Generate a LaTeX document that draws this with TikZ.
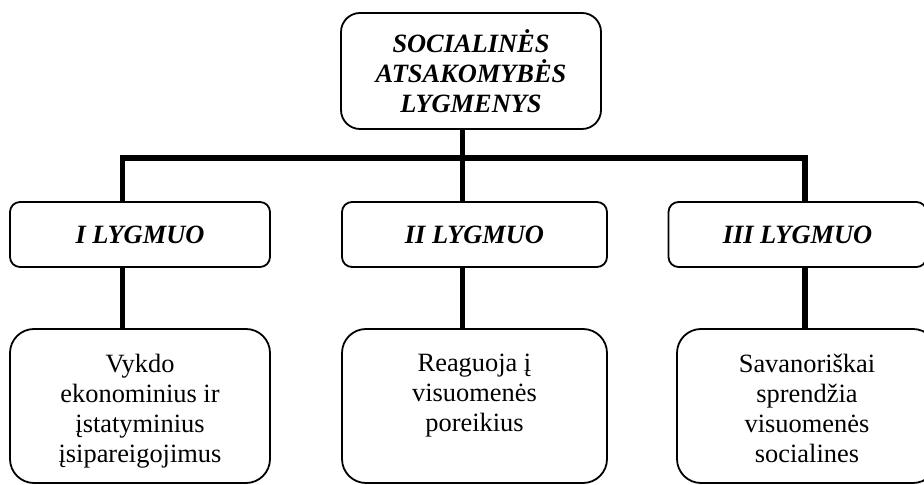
\documentclass[tikz,border=0pt]{standalone}
\usepackage{fontspec}
\setmainfont{Liberation Serif}
\usetikzlibrary{positioning}

% text of the lower boxes sits at the top of the box
\newcommand{\lowtxt}[1]{\parbox[c][52pt][t]{124pt}{\centering #1}}

\tikzset{
  headbox/.style={draw,line width=0.9pt,rounded corners=5pt,minimum width=130pt,
    minimum height=32.5pt,inner sep=0pt,align=center,font=\fontsize{13.2}{15}\selectfont\bfseries\itshape},
  topbox/.style={headbox,rounded corners=9.5pt,minimum height=58pt},
  lowbox/.style={draw,line width=0.9pt,rounded corners=12pt,minimum width=130pt,
    inner xsep=0pt,inner ysep=12.5pt,font=\fontsize{13.2}{15}\selectfont},
  bar/.style={line width=2.8pt,line join=miter}
}

\begin{document}
\begin{tikzpicture}[x=0.5pt,y=-0.5pt,node distance=2cm,on grid]
\useasboundingbox (0,0) rectangle (924,485);

  \node[topbox]   (top)  at (471,71)     {SOCIALINĖS\\ATSAKOMYBĖS\\LYGMENYS};
  \node[headbox]  (lvl1) at (140,234.5)  {I LYGMUO};
  \node[headbox,minimum width=132.5pt] (lvl2) at (474.5,234.5) {II LYGMUO};
  \node[headbox,minimum width=129pt]   (lvl3) at (797.5,234.5) {III LYGMUO};

  \node[lowbox]   (low1) [below=85.75pt of lvl1] {\lowtxt{Vykdo\\ekonominius ir\\įstatyminius\\įsipareigojimus}};
  \node[lowbox,minimum width=132.5pt] (low2) [below=85.75pt of lvl2] {\lowtxt{Reaguoja į\\visuomenės\\poreikius}};
  \node[lowbox]   (low3) [below right=85.75pt and 4.75pt of lvl3] {\lowtxt{Savanoriškai\\sprendžia\\visuomenės\\socialines}};

% joints on the bar
  \coordinate (j1) at (122.5,158);
  \coordinate (j2) at (462.5,158);
  \coordinate (j3) at (805,158);

  \draw[bar] (top.south -| j2) -- (j2);
  \draw[bar] (lvl1.north -| j1) -- (j1) -- (j3) -- (lvl3.north -| j3);
  \draw[bar] (j2) -- (lvl2.north -| j2);

  \draw[bar] (lvl1.south -| j1) -- (low1.north -| j1);
  \draw[bar] (lvl2.south -| j2) -- (low2.north -| j2);
  \draw[bar] (lvl3.south -| j3) -- (low3.north -| j3);
\end{tikzpicture}
\end{document}
